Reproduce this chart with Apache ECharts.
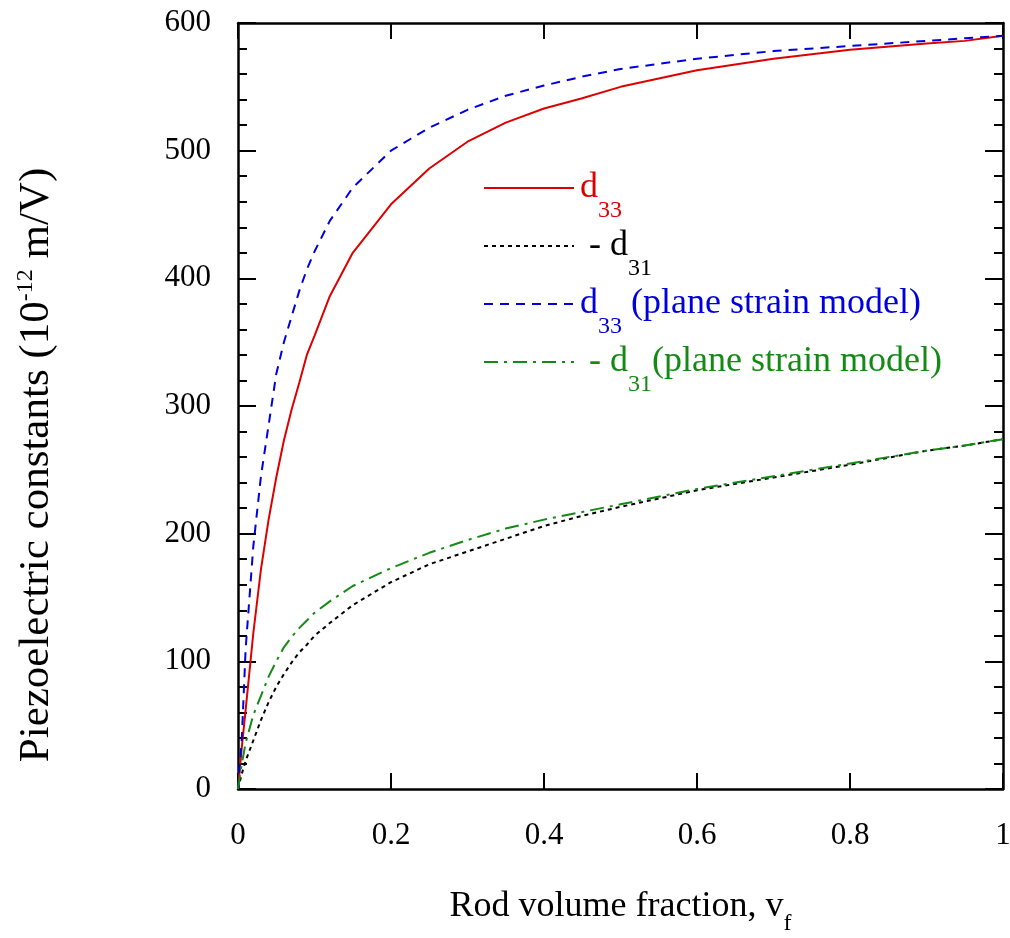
<!DOCTYPE html>
<html>
<head>
<meta charset="utf-8">
<script src="https://cdn.jsdelivr.net/npm/echarts@6/dist/echarts.min.js"></script>
<style>
html,body{margin:0;padding:0;background:#fff;}
#chart{width:1010px;height:938px;}
</style>
</head>
<body>
<div id="chart"></div>
<script>
// Rod volume fraction
const vf = [0, 0.005, 0.01, 0.02, 0.03, 0.04, 0.05, 0.06, 0.07, 0.08, 0.09, 0.1, 0.12, 0.15, 0.2, 0.25, 0.3, 0.35, 0.4, 0.45, 0.5, 0.6, 0.7, 0.8, 0.9, 0.95, 1.0];
// d33
const d33 = [0, 33, 62, 122, 172, 211, 244, 273, 297, 318, 340, 355, 386, 420, 458, 486, 507, 522, 533, 541, 550, 563, 572, 579, 584, 586, 590];
// -d31
const d31 = [0, 12, 22, 38, 54, 68, 80, 90, 99, 107, 113, 120, 130, 144, 162, 176, 186, 196, 206, 214, 221, 234, 244, 254, 265, 269, 274];
// d33 (plane strain model)
const d33ps = [0, 40, 110, 190, 245, 285, 325, 350, 370, 390, 407, 421, 445, 471, 500, 518, 532, 543, 551, 558, 564, 572, 578, 582, 586, 588, 590];
// -d31 (plane strain model)
const d31ps = [0, 20, 36, 58, 73, 88, 100, 111, 119, 126, 132, 138, 147, 159, 173, 185, 195, 204, 211, 217, 223, 235, 245, 255, 265, 269, 274];

const xTicks = ['0', '0.2', '0.4', '0.6', '0.8', '1'];
const yTicks = ['0', '100', '200', '300', '400', '500', '600'];

const FONT = 'Liberation Serif';
const RED = '#dd0000', BLUE = '#0000dd', GREEN = '#138a13', BLACK = '#000000';

function pairs(ys) { return vf.map((x, i) => [x, ys[i]]); }

const legendText = {
  'd33': 'd{sub|33}',
  'm_d31': ' - d{sub|31}',
  'd33ps': 'd{sub|33} (plane strain model)',
  'm_d31ps': ' - d{sub|31}(plane strain model)'
};

const axisLineStyle = { color: '#000', width: 2.5 };
const chart = echarts.init(document.getElementById('chart'), null, { renderer: 'canvas' });

const xBase = {
  type: 'value', min: 0, max: 1, interval: 0.2,
  axisLine: { show: true, onZero: false, lineStyle: axisLineStyle },
  axisTick: { show: true, inside: true, length: 16, lineStyle: { color: '#000', width: 2 } },
  splitLine: { show: false }
};
const yBase = {
  type: 'value', min: 0, max: 600, interval: 100,
  axisLine: { show: true, onZero: false, lineStyle: axisLineStyle },
  axisTick: { show: true, inside: true, length: 18, lineStyle: { color: '#000', width: 2 } },
  minorTick: { show: true, splitNumber: 5, length: 9, lineStyle: { color: '#000', width: 2 } },
  splitLine: { show: false }, minorSplitLine: { show: false }
};

chart.setOption({
  animation: false,
  backgroundColor: '#fff',
  grid: { left: 238, right: 7, top: 23, bottom: 149, containLabel: false, outerBoundsMode: 'none' },
  xAxis: [
    Object.assign({}, xBase, {
      position: 'bottom',
      axisLabel: {
        fontFamily: FONT, fontSize: 31, color: '#000', margin: 31,
        formatter: v => xTicks[Math.round(v / 0.2)]
      },
      name: 'Rod volume fraction, v{sub|f}',
      nameLocation: 'middle', nameGap: 89,
      nameTextStyle: {
        fontFamily: FONT, fontSize: 36, color: '#000',
        rich: { sub: { fontFamily: FONT, fontSize: 24, color: '#000', padding: [34, 0, 0, 0] } }
      }
    }),
    Object.assign({}, xBase, { position: 'top', axisLabel: { show: false } })
  ],
  yAxis: [
    Object.assign({}, yBase, {
      position: 'left',
      axisLabel: {
        fontFamily: FONT, fontSize: 31, color: '#000', margin: 27,
        formatter: v => yTicks[Math.round(v / 100)]
      },
      name: 'Piezoelectric constants (10{sup|-12} m/V)',
      nameLocation: 'middle', nameRotate: 90, nameGap: 178,
      nameTextStyle: {
        fontFamily: FONT, fontSize: 43, color: '#000', padding: [0, 118, 0, 0],
        rich: { sup: { fontFamily: FONT, fontSize: 24, color: '#000', padding: [0, 0, 22, 0] } }
      }
    }),
    Object.assign({}, yBase, { position: 'right', axisLabel: { show: false } })
  ],
  legend: {
    orient: 'vertical', left: 478, top: 165,
    itemWidth: 90, itemHeight: 14, itemGap: 5,
    selectedMode: false,
    itemStyle: { opacity: 0 },
    formatter: name => legendText[name],
    textStyle: {
      fontFamily: FONT, fontSize: 36, padding: [0, 0, 0, 1],
      rich: {
        sub: { fontFamily: FONT, fontSize: 24, padding: [46, 0, 0, 0] }
      }
    },
    data: [
      { name: 'd33', textStyle: { color: RED } },
      { name: 'm_d31', textStyle: { color: BLACK } },
      { name: 'd33ps', textStyle: { color: BLUE } },
      { name: 'm_d31ps', textStyle: { color: GREEN } }
    ]
  },
  series: [
    { name: 'd33', type: 'line', data: pairs(d33), symbol: 'none', showSymbol: false,
      lineStyle: { color: RED, width: 2, type: 'solid' }, itemStyle: { color: RED } },
    { name: 'm_d31', type: 'line', data: pairs(d31), symbol: 'none', showSymbol: false,
      lineStyle: { color: BLACK, width: 2, type: [4, 4] }, itemStyle: { color: BLACK } },
    { name: 'd33ps', type: 'line', data: pairs(d33ps), symbol: 'none', showSymbol: false,
      lineStyle: { color: BLUE, width: 2, type: [9, 7] }, itemStyle: { color: BLUE } },
    { name: 'm_d31ps', type: 'line', data: pairs(d31ps), symbol: 'none', showSymbol: false,
      lineStyle: { color: GREEN, width: 2, type: [14, 6, 3, 6] }, itemStyle: { color: GREEN } }
  ]
});
</script>
</body>
</html>
